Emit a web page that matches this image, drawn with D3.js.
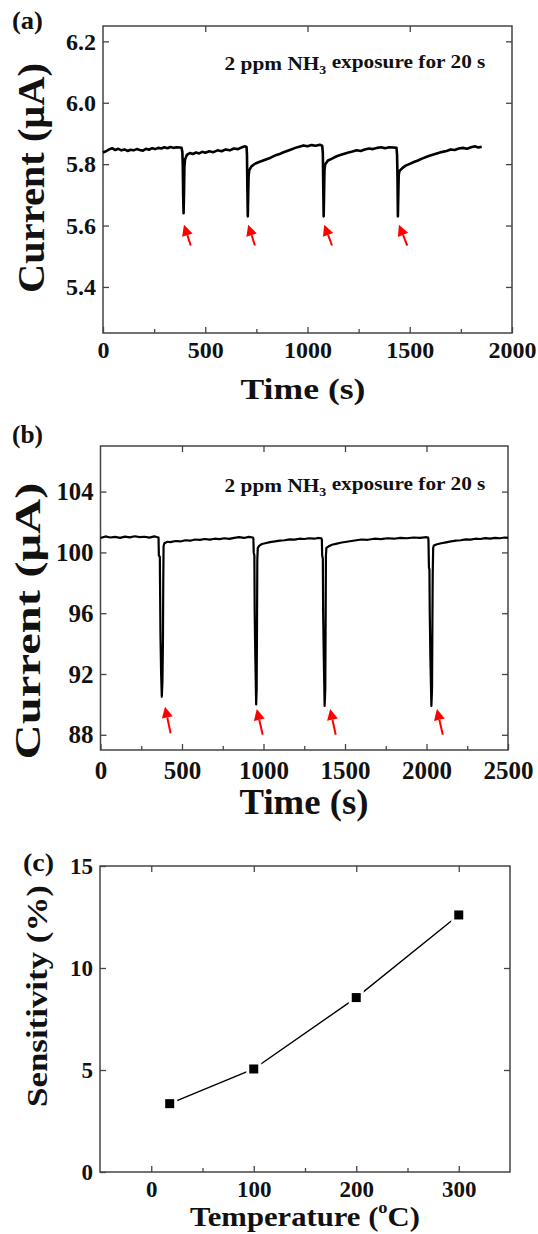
<!DOCTYPE html>
<html>
<head>
<meta charset="utf-8">
<script src="https://cdn.jsdelivr.net/npm/d3@7"></script>
<style>
  body { margin: 0; background: #fff; }
  svg, svg text { font-family: "Liberation Serif", "Times New Roman", Tinos, Times, "DejaVu Serif Condensed", serif; font-weight: bold; }
  .axis path.domain { display: none; }
  .axis line { stroke: #444; stroke-width: 1.3; }
  .axis text { fill: #111; }
</style>
</head>
<body>
<script>
// ---- data ----

// (a) current vs time, [time s, current uA]
const traceA = [
  [0, 5.838], [15, 5.842], [30, 5.848], [45, 5.852], [60, 5.846], [75, 5.850], [90, 5.845],
  [105, 5.848], [120, 5.843], [135, 5.847], [150, 5.845], [165, 5.849], [180, 5.846], [195, 5.844],
  [210, 5.850], [225, 5.847], [240, 5.852], [255, 5.849], [270, 5.853], [285, 5.851], [300, 5.855],
  [315, 5.852], [330, 5.856], [345, 5.853], [360, 5.855], [375, 5.854], [384, 5.853], [388, 5.840],
  [390, 5.800], [392, 5.700], [394, 5.640], [396, 5.700], [398, 5.790], [401, 5.815], [410, 5.830],
  [425, 5.836], [440, 5.833], [455, 5.838], [470, 5.835], [485, 5.840], [500, 5.837], [520, 5.842],
  [540, 5.839], [560, 5.845], [580, 5.842], [600, 5.848], [620, 5.845], [640, 5.851], [660, 5.849],
  [680, 5.855], [695, 5.858], [702, 5.856], [704, 5.830], [706, 5.720], [708, 5.630], [710, 5.700],
  [712, 5.760], [715, 5.780], [725, 5.792], [740, 5.800], [760, 5.806], [780, 5.811], [800, 5.816],
  [820, 5.821], [840, 5.828], [860, 5.832], [880, 5.838], [900, 5.843], [920, 5.848], [940, 5.853],
  [960, 5.857], [980, 5.861], [1000, 5.858], [1020, 5.862], [1040, 5.860], [1060, 5.863], [1072, 5.860],
  [1075, 5.835], [1077, 5.730], [1079, 5.630], [1081, 5.700], [1083, 5.780], [1087, 5.800], [1100, 5.812],
  [1120, 5.818], [1140, 5.825], [1160, 5.830], [1180, 5.834], [1200, 5.838], [1220, 5.841], [1240, 5.845],
  [1260, 5.843], [1280, 5.848], [1300, 5.851], [1320, 5.849], [1340, 5.853], [1360, 5.855], [1380, 5.852],
  [1400, 5.855], [1420, 5.854], [1435, 5.853], [1438, 5.830], [1440, 5.760], [1442, 5.630], [1444, 5.700],
  [1446, 5.765], [1450, 5.778], [1465, 5.788], [1480, 5.795], [1500, 5.801], [1520, 5.807], [1540, 5.812],
  [1560, 5.818], [1580, 5.823], [1600, 5.828], [1620, 5.832], [1640, 5.836], [1660, 5.840], [1680, 5.843],
  [1700, 5.848], [1720, 5.846], [1740, 5.851], [1760, 5.853], [1780, 5.850], [1800, 5.855], [1820, 5.858],
  [1835, 5.854], [1852, 5.857]
];

// (b) current vs time, [time s, current uA]
const traceB = [
  [0, 100.95], [30, 101.05], [60, 100.98], [90, 101.02], [120, 100.96], [150, 101.04], [180, 100.99],
  [210, 101.06], [240, 101.00], [270, 101.03], [300, 100.97], [330, 101.05], [350, 101.00], [356, 100.98],
  [358, 99.80], [364, 99.70], [366, 97.00], [368, 94.50], [372, 92.00], [376, 90.50], [380, 91.50],
  [383, 94.00], [385, 98.00], [387, 100.40], [392, 100.60], [410, 100.70], [430, 100.68], [460, 100.75],
  [490, 100.72], [520, 100.80], [550, 100.77], [580, 100.85], [610, 100.82], [640, 100.88], [670, 100.84],
  [700, 100.90], [730, 100.87], [760, 100.93], [790, 100.89], [820, 100.96], [850, 101.00], [880, 100.95],
  [910, 101.02], [935, 100.98], [938, 100.90], [940, 100.00], [944, 99.80], [946, 96.00], [950, 93.00],
  [955, 90.00], [958, 91.00], [960, 95.00], [962, 99.50], [965, 100.30], [975, 100.45], [990, 100.55],
  [1010, 100.60], [1040, 100.68], [1070, 100.72], [1100, 100.78], [1130, 100.80], [1160, 100.86],
  [1190, 100.84], [1220, 100.90], [1250, 100.88], [1280, 100.93], [1310, 100.90], [1340, 100.95],
  [1355, 100.92], [1358, 100.85], [1360, 99.80], [1364, 99.60], [1366, 96.00], [1370, 93.00], [1375, 89.90],
  [1379, 91.00], [1381, 95.00], [1383, 99.80], [1386, 100.30], [1400, 100.40], [1420, 100.50],
  [1450, 100.58], [1480, 100.65], [1510, 100.70], [1540, 100.75], [1570, 100.80], [1600, 100.85],
  [1640, 100.83], [1680, 100.90], [1720, 100.87], [1760, 100.93], [1800, 100.90], [1840, 100.96],
  [1880, 100.93], [1920, 100.98], [1960, 100.95], [2000, 101.00], [2010, 100.97], [2012, 100.80],
  [2015, 99.00], [2018, 98.90], [2020, 96.00], [2024, 93.00], [2030, 89.90], [2034, 91.00], [2036, 95.00],
  [2038, 98.50], [2041, 100.30], [2045, 100.45], [2060, 100.52], [2090, 100.60], [2120, 100.66],
  [2150, 100.72], [2180, 100.78], [2210, 100.80], [2240, 100.86], [2270, 100.84], [2300, 100.90],
  [2330, 100.88], [2360, 100.94], [2390, 100.91], [2420, 100.96], [2450, 100.93], [2480, 100.98],
  [2500, 100.95]
];

// red arrows, tail -> tip in data units
const arrowsA = [
  { tail: [429, 5.535], tip: [396, 5.603] },
  { tail: [743, 5.535], tip: [710, 5.603] },
  { tail: [1120, 5.535], tip: [1082, 5.603] },
  { tail: [1488, 5.535], tip: [1447, 5.603] }
];
const arrowsB = [
  { tail: [430, 88.1], tip: [396, 89.85] },
  { tail: [995, 88.0], tip: [959, 89.7] },
  { tail: [1443, 88.0], tip: [1409, 89.7] },
  { tail: [2100, 88.0], tip: [2064, 89.7] }
];

// (c) sensitivity vs temperature
const temperatureC = [18, 100, 200, 300];
const sensitivityC = [3.35, 5.05, 8.55, 12.6];

// tick values
const xTicksA = [0, 500, 1000, 1500, 2000];
const xMinorA = [250, 750, 1250, 1750];
const yTicksA = [5.4, 5.6, 5.8, 6.0, 6.2];
const xTicksB = [0, 500, 1000, 1500, 2000, 2500];
const xMinorB = [250, 750, 1250, 1750, 2250];
const yTicksB = [88, 92, 96, 100, 104];
const xTicksC = [0, 100, 200, 300];
const xMinorC = [50, 150, 250];
const yTicksC = [0, 5, 10, 15];

const svg = d3.select("body").append("svg")
  .attr("width", 538)
  .attr("height", 1234);

// squeeze / stretch a label to the width it has in the picture
function fitLabel(g, width) {
  const t = g.select("text");
  const w = t.node().getBBox().width;
  t.attr("transform", `scale(${width / w},1)`);
}

function addLabel(x, y, rotate, size, width, build) {
  const g = svg.append("g")
    .attr("transform", `translate(${x},${y}) rotate(${rotate})`);
  const t = g.append("text")
    .attr("text-anchor", "middle")
    .attr("font-size", size)
    .attr("fill", "#111");
  build(t);
  fitLabel(g, width);
  return g;
}

// tick labels get the width of the picture's digits (≈0.5em each)
function fitTicks(sel, fs) {
  sel.each(function () {
    const t = d3.select(this);
    const w = this.getBBox().width;
    const target = t.text().replace(".", "").length * fs * 0.5 + (t.text().includes(".") ? fs * 0.25 : 0);
    const anchorX = +t.attr("x") || 0;
    const s = target / w;
    t.attr("transform", `translate(${anchorX * (1 - s)},0) scale(${s},1)`);
  });
}

function drawFrame(cfg) {
  const x = d3.scaleLinear().domain(cfg.xDomain).range([cfg.left, cfg.right]);
  const y = d3.scaleLinear().domain(cfg.yDomain).range([cfg.bottom, cfg.top]);

  const axes = svg.append("g");

  const xg = axes.append("g").attr("class", "axis")
    .attr("transform", `translate(0,${cfg.bottom})`)
    .call(d3.axisBottom(x).tickValues(cfg.xTicks).tickSize(-6).tickPadding(cfg.xPad).tickFormat(d3.format("d")));
  xg.selectAll("text").style("font-size", cfg.fs + "px");
  fitTicks(xg.selectAll("text"), cfg.fs);

  axes.append("g").attr("class", "axis")
    .attr("transform", `translate(0,${cfg.bottom})`)
    .call(d3.axisBottom(x).tickValues(cfg.xMinor).tickSize(-4).tickFormat(""));

  axes.append("g").attr("class", "axis")
    .attr("transform", `translate(0,${cfg.top})`)
    .call(d3.axisTop(x).tickValues(cfg.xTicks.filter(d => d > cfg.xDomain[0] && d < cfg.xDomain[1])).tickSize(-6).tickFormat(""));

  const yg = axes.append("g").attr("class", "axis")
    .attr("transform", `translate(${cfg.left},0)`)
    .call(d3.axisLeft(y).tickValues(cfg.yTicks).tickSize(-6).tickPadding(7).tickFormat(cfg.yFormat));
  yg.selectAll("text").style("font-size", cfg.fs + "px");
  fitTicks(yg.selectAll("text"), cfg.fs);

  axes.append("g").attr("class", "axis")
    .attr("transform", `translate(${cfg.right},0)`)
    .call(d3.axisRight(y).tickValues(cfg.yTicks.filter(d => d > cfg.yDomain[0] && d < cfg.yDomain[1])).tickSize(-6).tickFormat(""));

  svg.append("rect")
    .attr("x", cfg.left)
    .attr("y", cfg.top)
    .attr("width", cfg.right - cfg.left)
    .attr("height", cfg.bottom - cfg.top)
    .attr("fill", "none")
    .attr("stroke", "#444")
    .attr("stroke-width", 1.5);

  return { x, y };
}

function drawArrows(arrows, x, y) {
  const headLen = 11, headHalf = 5.5;
  arrows.forEach(a => {
    const x0 = x(a.tail[0]), y0 = y(a.tail[1]);
    const x1 = x(a.tip[0]), y1 = y(a.tip[1]);
    const ang = Math.atan2(y1 - y0, x1 - x0);
    const bx = x1 - headLen * Math.cos(ang), by = y1 - headLen * Math.sin(ang);
    svg.append("line")
      .attr("x1", x0).attr("y1", y0)
      .attr("x2", bx).attr("y2", by)
      .attr("stroke", "#ff0000")
      .attr("stroke-width", 2);
    const px = -Math.sin(ang) * headHalf, py = Math.cos(ang) * headHalf;
    svg.append("path")
      .attr("d", `M${x1},${y1}L${bx + px},${by + py}L${bx - px},${by - py}Z`)
      .attr("fill", "#ff0000");
  });
}

function currentTitle(t) {
  t.text("Current (μA)");
}

function exposureNote(t) {
  t.append("tspan").text("2 ppm NH");
  t.append("tspan").attr("font-size", "65%").attr("dy", "0.3em").text("3");
  t.append("tspan").attr("dy", "-0.3em").text(" exposure for 20 s");
}

function panelTag(x, y, label) {
  const g = svg.append("g").attr("transform", `translate(${x},${y})`);
  g.append("text").attr("font-size", 26).attr("fill", "#111").text(label);
  const w = g.select("text").node().getBBox().width;
  g.select("text").attr("transform", `scale(${31 / w},1)`);
}

// ---------- panel (a) ----------
const a = drawFrame({
  left: 103, right: 512, top: 26, bottom: 333,
  xDomain: [0, 2000], yDomain: [5.25, 6.25],
  xTicks: xTicksA, xMinor: xMinorA, yTicks: yTicksA,
  yFormat: d3.format(".1f"), fs: 24, xPad: 8
});

svg.append("path")
  .datum(traceA)
  .attr("fill", "none")
  .attr("stroke", "#000")
  .attr("stroke-width", 2.6)
  .attr("stroke-linejoin", "round")
  .attr("d", d3.line().x(d => a.x(d[0])).y(d => a.y(d[1])));

drawArrows(arrowsA, a.x, a.y);

panelTag(12, 29, "(a)");
addLabel(355, 70, 0, 19, 261, exposureNote);
addLabel(44, 178, -90, 38, 230, currentTitle);
addLabel(303, 399, 0, 30, 125, t => t.text("Time (s)"));

// ---------- panel (b) ----------
const b = drawFrame({
  left: 100.5, right: 508, top: 446, bottom: 750,
  xDomain: [0, 2500], yDomain: [87, 107],
  xTicks: xTicksB, xMinor: xMinorB, yTicks: yTicksB,
  yFormat: d3.format("d"), fs: 25, xPad: 11
});

svg.append("path")
  .datum(traceB)
  .attr("fill", "none")
  .attr("stroke", "#000")
  .attr("stroke-width", 2.2)
  .attr("stroke-linejoin", "round")
  .attr("d", d3.line().x(d => b.x(d[0])).y(d => b.y(d[1])));

drawArrows(arrowsB, b.x, b.y);

panelTag(12, 443, "(b)");
addLabel(355, 492, 0, 19, 261, exposureNote);
addLabel(40, 621, -90, 36, 277, currentTitle);
addLabel(304, 814, 0, 35, 129, t => t.text("Time (s)"));

// ---------- panel (c) ----------
const c = drawFrame({
  left: 100, right: 510, top: 866, bottom: 1172,
  xDomain: [-50, 350], yDomain: [0, 15],
  xTicks: xTicksC, xMinor: xMinorC, yTicks: yTicksC,
  yFormat: d3.format("d"), fs: 23, xPad: 9
});

const sens = temperatureC.map((tc, i) => [tc, sensitivityC[i]]);

svg.append("path")
  .datum(sens)
  .attr("fill", "none")
  .attr("stroke", "#000")
  .attr("stroke-width", 1.4)
  .attr("d", d3.line().x(d => c.x(d[0])).y(d => c.y(d[1])));

svg.selectAll(".sq")
  .data(sens)
  .join("rect")
  .attr("class", "sq")
  .attr("x", d => c.x(d[0]) - 4.5)
  .attr("y", d => c.y(d[1]) - 4.5)
  .attr("width", 9)
  .attr("height", 9)
  .attr("fill", "#000")
  .attr("stroke", "#fff")
  .attr("stroke-width", 6)
  .style("paint-order", "stroke");

panelTag(23, 871, "(c)");
addLabel(47, 996, -90, 30, 222, t => t.text("Sensitivity (%)"));
addLabel(305, 1226, 0, 28, 230, t => {
  t.append("tspan").text("Temperature (");
  t.append("tspan").attr("font-size", "60%").attr("dy", "-0.75em").text("o");
  t.append("tspan").attr("dy", "0.45em").text("C)");
});
</script>
</body>
</html>
